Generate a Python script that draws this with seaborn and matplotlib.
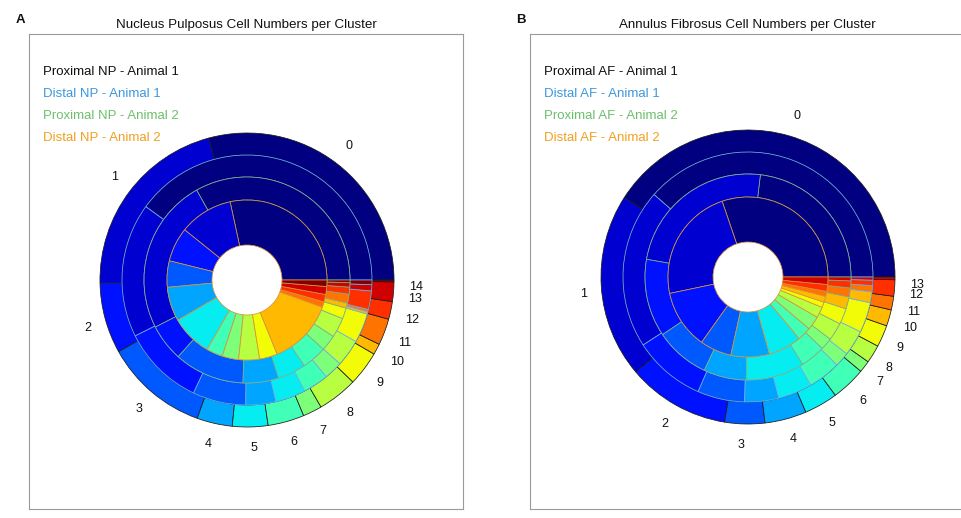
import numpy as np
import matplotlib
matplotlib.use("Agg")
import matplotlib.pyplot as plt
import seaborn as sns

# ---------------- data (share of cells per cluster, %) ----------------
np_clusters = [str(i) for i in range(15)]
np_prox_a1 = [29.2, 21.1, 7.8, 11.4, 3.9, 3.9, 4.0, 2.1, 4.4, 3.8, 1.2, 2.9, 1.95, 2.15, 0.2]
np_dist_a1 = [40.1, 17.4, 10.6, 6.9, 3.9, 3.9, 3.3, 2.4, 3.5, 3.8, 0.3, 0.3, 2.4, 0.8, 0.6]
np_prox_a2 = [33.1, 24.4, 5.8, 11.0, 5.6, 4.4, 3.9, 2.5, 3.1, 1.7, 0.8, 1.4, 1.1, 0.7, 0.4]
np_dist_a2 = [28.3, 10.8, 6.9, 5.3, 6.9, 8.3, 3.3, 3.3, 4.2, 3.6, 13.3, 1.1, 1.5, 1.6, 1.3]

af_clusters = [str(i) for i in range(14)]
af_prox_a1 = [41.0, 20.3, 11.3, 4.4, 4.6, 3.7, 3.8, 1.3, 2.0, 2.4, 1.8, 1.5, 1.8, 0.3]
af_dist_a1 = [38.5, 20.6, 9.3, 6.1, 4.4, 4.4, 4.2, 1.9, 3.3, 3.9, 1.4, 0.8, 0.7, 0.4]
af_prox_a2 = [23.1, 24.2, 12.2, 8.6, 6.7, 9.2, 3.9, 1.9, 2.8, 2.5, 1.9, 1.4, 1.1, 0.6]
af_dist_a2 = [30.3, 23.1, 11.9, 6.4, 7.8, 6.7, 2.8, 2.8, 2.2, 1.1, 1.2, 1.0, 1.4, 1.5]

np_legend = ["Proximal NP - Animal 1", "Distal NP - Animal 1",
             "Proximal NP - Animal 2", "Distal NP - Animal 2"]
af_legend = ["Proximal AF - Animal 1", "Distal AF - Animal 1",
             "Proximal AF - Animal 2", "Distal AF - Animal 2"]
titles = ["Nucleus Pulposus Cell Numbers per Cluster",
          "Annulus Fibrosus Cell Numbers per Cluster"]
panel_letters = ["A", "B"]

# ---------------- style ----------------
sns.set_theme(style="white")
plt.rcParams['font.family'] = ['Liberation Sans', 'DejaVu Sans']

legend_colors = ["#111111", "#3d97dc", "#6cc06c", "#f0a020"]
edge_colors = ["#1a1a1a", "#6aaee8", "#7fae7f", "#d8913a"]
ring_outer = [147, 125, 103, 80]
ring_width = [22, 22, 23, 45]
# one shared 15-step jet scale for both panels
jet_colors = plt.get_cmap('jet')(np.linspace(0, 1, 15))

W, H = 961, 518
fig = plt.figure(figsize=(W / 100, H / 100), dpi=100)

def panel(left_px, cy_px, rings, clusters, legend, title, letter):
    top_px, bot_px, width_px = 34, 509, 434
    ax = fig.add_axes([left_px / W, 1 - bot_px / H, width_px / W, (bot_px - top_px) / H])
    cols = jet_colors[:len(clusters)]
    for i, vals in enumerate(rings):
        kw = dict(colors=cols, radius=ring_outer[i], startangle=0, counterclock=True,
                  frame=True,
                  wedgeprops=dict(width=ring_width[i], edgecolor=edge_colors[i], linewidth=0.55))
        if i == 0:
            _, texts = ax.pie(vals, labels=clusters, labeldistance=1.1,
                              textprops=dict(fontsize=9, color='#111111'), **kw)
            for t in texts:
                x, y = t.get_position()
                t.set_ha('left' if x >= 0 else 'right')
                t.set_va('bottom' if y >= 0 else 'top')
        else:
            ax.pie(vals, **kw)
    ax.set_aspect('auto')
    ax.set_xlim(-218, width_px - 218)
    ax.set_ylim(-(bot_px - cy_px), cy_px - top_px)
    ax.set_xticks([]); ax.set_yticks([])
    for s in ax.spines.values():
        s.set_visible(True)
        s.set_color('#9a9a9a')
        s.set_linewidth(0.8)
    for k, (lab, c) in enumerate(zip(legend, legend_colors)):
        ax.text(14 / width_px, 1 - (38 + 22 * k) / (bot_px - top_px), lab, color=c,
                fontsize=9.5, transform=ax.transAxes, ha='left', va='center')
    ax.set_title(title, fontsize=9.6, pad=4, color='#111111')
    fig.text((left_px - 9) / W, 1 - 20 / H, letter, fontsize=9.5, fontweight='bold',
             ha='center', va='center', color='#111111')
    return ax

panel(29, 280, [np_prox_a1, np_dist_a1, np_prox_a2, np_dist_a2], np_clusters,
      np_legend, titles[0], panel_letters[0])
panel(530, 277, [af_prox_a1, af_dist_a1, af_prox_a2, af_dist_a2], af_clusters,
      af_legend, titles[1], panel_letters[1])

fig.savefig("out.png", dpi=100, facecolor='white')
